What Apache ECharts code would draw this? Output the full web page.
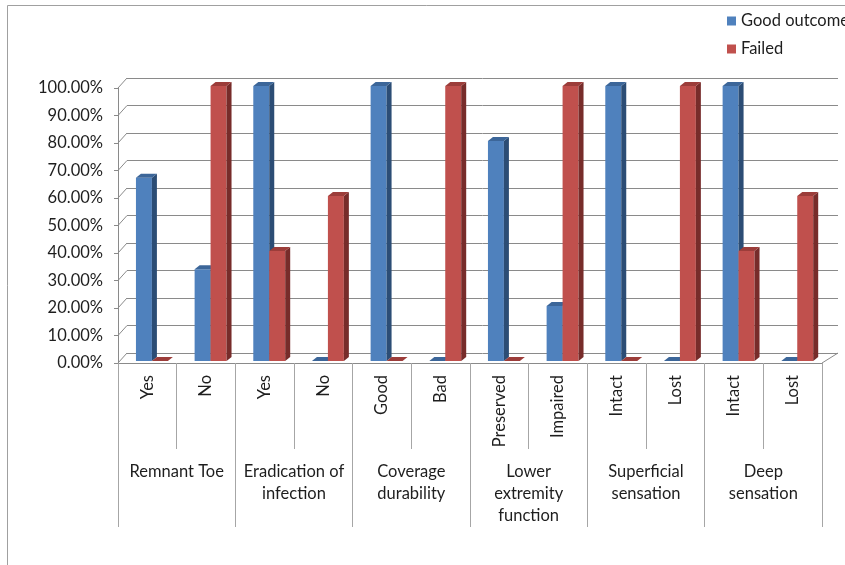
<!DOCTYPE html>
<html>
<head>
<meta charset="utf-8">
<title>Outcome by clinical factor</title>
<script src="https://cdn.jsdelivr.net/npm/echarts@6.0.0/dist/echarts.min.js"></script>
<style>
  html, body { margin: 0; padding: 0; background: #ffffff; }
  #chart { width: 845px; height: 565px; }
</style>
</head>
<body>
<div id="chart"></div>
<script>
// Group labels (outer category level) and item labels (inner level)
const groups = ['Remnant Toe', 'Eradication of\ninfection', 'Coverage\ndurability',
  'Lower\nextremity\nfunction', 'Superficial\nsensation', 'Deep\nsensation'];
const items = ['Yes', 'No', 'Yes', 'No', 'Good', 'Bad', 'Preserved', 'Impaired',
  'Intact', 'Lost', 'Intact', 'Lost'];

// Share of patients per item
const goodOutcome = [0.6667, 0.3333, 1.0, 0.0, 1.0, 0.0, 0.8, 0.2, 1.0, 0.0, 1.0, 0.0];
const failed = [0.0, 1.0, 0.4, 0.6, 0.0, 1.0, 0.0, 1.0, 0.0, 1.0, 0.4, 0.6];

// Value-axis ticks
const yTicks = [0, 0.1, 0.2, 0.3, 0.4, 0.5, 0.6, 0.7, 0.8, 0.9, 1.0];

const FONT = 'Lato, "Open Sans", sans-serif';
const FONT_SIZE = 16.5;
const GRID_COLOR = '#8a8a8a';
const AXIS_COLOR = '#a6a6a6';
const TEXT_COLOR = '#1e1e1e';

// Shaded column: front face, right side face and top face
function makeBar(slot, colors) {
  return function (params, api) {
    const idx = api.value(0);
    const val = api.value(1);
    const base = api.coord([idx, 0]);
    const top = api.coord([idx, val]);
    const band = api.size([1, 0])[0];
    const bw = band * 0.272;
    const sx = band * 0.078;
    const sy = -2;
    const d = 5, dz = 4;
    const left = base[0] + sx - bw + slot * bw;
    const right = left + bw;
    const yb = base[1] + sy;
    const yt = top[1] + sy;
    const children = [];
    if (yb - yt > 0.5) {
      children.push({
        type: 'rect',
        shape: { x: left, y: yt, width: bw, height: yb - yt },
        style: { fill: colors.front }
      });
      children.push({
        type: 'polygon',
        shape: { points: [[right, yt], [right + d, yt - dz], [right + d, yb - dz], [right, yb]] },
        style: { fill: colors.side }
      });
    }
    children.push({
      type: 'polygon',
      shape: { points: [[left, yt], [left + d, yt - dz], [right + d, yt - dz], [right, yt]] },
      style: { fill: colors.top }
    });
    return { type: 'group', children: children };
  };
}

// Left side wall edges and right floor edge of the 3D box
function renderWalls(params, api) {
  const v = api.value(0);
  const cs = params.coordSys;
  const p = api.coord([0, v]);
  const children = [{
    type: 'line',
    shape: { x1: cs.x, y1: p[1], x2: cs.x + 9, y2: p[1] - 10 },
    style: { stroke: GRID_COLOR, lineWidth: 1 }
  }];
  if (v === 0) {
    children.push({
      type: 'line',
      shape: { x1: cs.x + cs.width, y1: p[1], x2: cs.x + cs.width + 16, y2: p[1] - 10 },
      style: { stroke: GRID_COLOR, lineWidth: 1 }
    });
  }
  return { type: 'group', children: children };
}

const chart = echarts.init(document.getElementById('chart'), null, { renderer: 'canvas' });

chart.setOption({
  animation: false,
  backgroundColor: '#ffffff',
  textStyle: { fontFamily: FONT },
  graphic: [{
    type: 'rect',
    shape: { x: 7.5, y: 5.5, width: 900, height: 600 },
    style: { fill: 'none', stroke: '#a0a0a0', lineWidth: 1 },
    silent: true,
    z: -10
  }],
  legend: {
    orient: 'vertical',
    left: 722,
    top: 7,
    itemWidth: 9,
    itemHeight: 9,
    itemGap: 10,
    icon: 'rect',
    textStyle: { fontFamily: FONT, fontSize: FONT_SIZE, color: TEXT_COLOR, lineHeight: 18 },
    data: ['Good outcome', 'Failed']
  },
  grid: [
    { left: 118, right: 23, top: 88, bottom: 202 },
    { left: 127, right: 7, top: 78, bottom: 212 }
  ],
  xAxis: [
    {
      type: 'category',
      gridIndex: 0,
      data: items,
      position: 'bottom',
      offset: 0,
      boundaryGap: true,
      axisLine: { show: true, lineStyle: { color: GRID_COLOR } },
      axisTick: { show: true, interval: 0, length: 86, alignWithLabel: false, lineStyle: { color: AXIS_COLOR } },
      axisLabel: { interval: 0, rotate: 90, margin: 12, fontFamily: FONT, fontSize: FONT_SIZE, color: TEXT_COLOR },
      splitLine: { show: false }
    },
    {
      type: 'category',
      gridIndex: 0,
      data: groups,
      position: 'bottom',
      offset: 0,
      boundaryGap: true,
      axisLine: { show: false },
      axisTick: { show: true, interval: 0, length: 164, lineStyle: { color: AXIS_COLOR } },
      axisLabel: { interval: 0, margin: 98, fontFamily: FONT, fontSize: FONT_SIZE, lineHeight: 22, color: TEXT_COLOR, align: 'center' },
      splitLine: { show: false }
    },
    {
      type: 'value',
      gridIndex: 1,
      show: false,
      min: 0,
      max: 1
    }
  ],
  yAxis: [
    {
      type: 'value',
      gridIndex: 0,
      min: 0,
      max: 1,
      interval: 0.1,
      axisLine: { show: true, lineStyle: { color: GRID_COLOR } },
      axisTick: { show: true, length: 4, lineStyle: { color: GRID_COLOR } },
      axisLabel: {
        margin: 15,
        fontFamily: FONT,
        fontSize: FONT_SIZE,
        color: TEXT_COLOR,
        formatter: function (v) { return (v * 100).toFixed(2) + '%'; }
      },
      splitLine: { show: false }
    },
    {
      type: 'value',
      gridIndex: 1,
      min: 0,
      max: 1,
      interval: 0.1,
      axisLine: { show: false },
      axisTick: { show: false },
      axisLabel: { show: false },
      splitLine: { show: true, lineStyle: { color: GRID_COLOR, width: 1 } }
    }
  ],
  series: [
    {
      name: 'walls',
      type: 'custom',
      xAxisIndex: 0,
      yAxisIndex: 0,
      silent: true,
      z: 1,
      data: yTicks.map(function (v) { return [v]; }),
      encode: { y: 0 },
      renderItem: renderWalls
    },
    {
      name: 'Good outcome',
      type: 'custom',
      xAxisIndex: 0,
      yAxisIndex: 0,
      z: 2,
      itemStyle: { color: '#4f81bd' },
      data: goodOutcome.map(function (v, i) { return [i, v]; }),
      encode: { x: 0, y: 1 },
      renderItem: makeBar(0, { front: '#4f81bd', side: '#2c4d75', top: '#3c6699' })
    },
    {
      name: 'Failed',
      type: 'custom',
      xAxisIndex: 0,
      yAxisIndex: 0,
      z: 2,
      itemStyle: { color: '#c0504d' },
      data: failed.map(function (v, i) { return [i, v]; }),
      encode: { x: 0, y: 1 },
      renderItem: makeBar(1, { front: '#c0504d', side: '#772c2a', top: '#9c3d3a' })
    }
  ]
});
</script>
</body>
</html>
